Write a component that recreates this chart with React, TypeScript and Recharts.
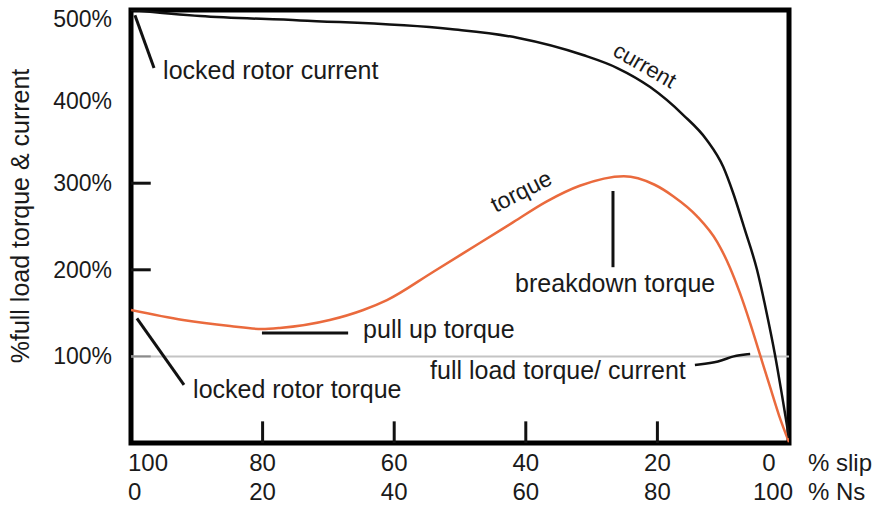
import React from 'react';
import { LineChart, Line, XAxis, YAxis, ReferenceLine, ReferenceArea, ReferenceDot, Label } from 'recharts';

// ---- data (x = % slip, y = % of full load) ----
const currentSlip = [100, 89.5, 74.3, 51.5, 41.3, 31.3, 26.1, 21.1, 16.1, 12.5, 10.0, 8.5, 6.7, 4.86, 3.5, 2.13, 1.06, 0];
const currentPct = [500, 493, 488, 478, 468, 448, 433, 411, 379, 350, 319, 289, 246, 200, 154, 102, 55, 6];

const torqueSlip = [100, 92.1, 84.95, 80.1, 77.4, 69.8, 64.7, 61.1, 54.1, 47.0, 41.9, 36.8, 31.8, 25.1, 20.5, 17.6, 14.0, 10.9, 9.0, 7.45, 5.93, 4.41, 2.89, 1.52, 0];
const torquePct = [153.6, 142, 135, 131.6, 132.8, 142, 153.6, 165, 197.5, 231, 255, 279, 297, 308, 298.5, 285, 262, 232, 203, 173, 139, 102, 65, 32, 1];

const xTicks = [100, 80, 60, 40, 20, 0];
const slipLabels = ['100', '80', '60', '40', '20', '0'];
const nsLabels = ['0', '20', '40', '60', '80', '100'];
const yTicks = [100, 200, 300, 400, 500];
const innerXTicks = [80, 60, 40, 20];
const innerYTicks = [200, 300];

const fullLoadSlip = [14.3, 10.5, 8.5, 5.9];
const fullLoadPct = [90, 93.5, 101, 102.8];

const currentData = currentSlip.map((s, i) => ({ slip: s, pct: currentPct[i] }));
const torqueData = torqueSlip.map((s, i) => ({ slip: s, pct: torquePct[i] }));
const fullLoadData = fullLoadSlip.map((s, i) => ({ slip: s, pct: fullLoadPct[i] }));

// leader lines in data units
const leaders = [
  [{ x: 99.4, y: 494 }, { x: 96.5, y: 433 }],
  [{ x: 99.1, y: 144 }, { x: 91.95, y: 67 }],
  [{ x: 80.1, y: 127 }, { x: 67.0, y: 127 }],
  [{ x: 26.75, y: 291 }, { x: 26.75, y: 203 }],
];

const TEXT = '#1a1a1a';
const FONT = '"Liberation Sans", Arial, Helvetica, sans-serif';

const XTick = (props: any) => {
  const { x, y, payload } = props;
  const i = xTicks.indexOf(payload.value);
  let a1 = 'middle', a2 = 'middle', x1 = x, x2 = x;
  if (i === 0) { a1 = 'start'; a2 = 'start'; x1 = x - 3; x2 = x - 3; }
  if (i === xTicks.length - 1) { a1 = 'middle'; a2 = 'end'; x1 = x - 20; x2 = x + 4; }
  return (
    <g fontSize={24} fill={TEXT}>
      <text x={x1} y={y + 28} textAnchor={a1} fill={TEXT}>{slipLabels[i]}</text>
      <text x={x2} y={y + 57} textAnchor={a2} fill={TEXT}>{nsLabels[i]}</text>
      {i === xTicks.length - 1 && (
        <>
          <text x={x + 19} y={y + 28} textAnchor="start" fill={TEXT}>% slip</text>
          <text x={x + 19} y={y + 57} textAnchor="start" fill={TEXT}>% Ns</text>
        </>
      )}
    </g>
  );
};

const YTick = (props: any) => {
  const { x, y, payload } = props;
  const v = payload.value;
  const dy = v === 500 ? 17 : v === 400 ? 12 : 8;
  return (
    <text x={x - 19} y={y + dy} textAnchor="end" fontSize={23} fill={TEXT}>{`${v}%`}</text>
  );
};

const dotLabel = (text: string, position: any = 'right', angle = 0, fontSize = 25) => (
  <Label value={text} position={position} offset={0} angle={angle} fontSize={fontSize} fill={TEXT} />
);

export default function App() {
  return (
    <div style={{ position: 'absolute', left: 0, top: 0, width: 877, height: 505, background: '#fff', fontFamily: FONT }}>
      <LineChart width={877} height={505} margin={{ top: 10, right: 88, bottom: 0, left: 0 }}>
        <XAxis
          type="number"
          dataKey="slip"
          domain={[0, 100]}
          reversed
          ticks={xTicks}
          tick={<XTick />}
          tickLine={false}
          axisLine={false}
          tickSize={0}
          tickMargin={0}
          height={62}
          allowDataOverflow
          interval={0}
        />
        <YAxis
          type="number"
          dataKey="pct"
          domain={[0, 500]}
          ticks={yTicks}
          tick={<YTick />}
          tickLine={false}
          axisLine={false}
          tickSize={0}
          tickMargin={0}
          width={131}
          allowDataOverflow
          interval={0}
          label={{
            content: () => (
              <text transform="translate(29,216) rotate(-90)" textAnchor="middle" fontSize={25} fill={TEXT}>
                %full load torque &amp; current
              </text>
            ),
          }}
        />
        <ReferenceLine y={100} stroke="#c4c4c4" strokeWidth={2} />
        <ReferenceLine segment={[{ x: 100, y: 100 }, { x: 97, y: 100 }]} stroke="#8a8a8a" strokeWidth={2} />
        {innerYTicks.map((v) => (
          <ReferenceLine key={`yt${v}`} segment={[{ x: 100, y: v }, { x: 97, y: v }]} stroke="#111" strokeWidth={3} />
        ))}
        {innerXTicks.map((s) => (
          <ReferenceLine key={`xt${s}`} segment={[{ x: s, y: 0 }, { x: s, y: 25 }]} stroke="#111" strokeWidth={3} />
        ))}
        {leaders.map((seg, i) => (
          <ReferenceLine key={`ld${i}`} segment={seg} stroke="#111" strokeWidth={3} ifOverflow="visible" />
        ))}
        <ReferenceArea x1={100} x2={0} y1={0} y2={500} fill="none" stroke="#000" strokeWidth={5} ifOverflow="visible" />

        <Line data={fullLoadData} dataKey="pct" type="basis" stroke="#111" strokeWidth={2.5} dot={false} isAnimationActive={false} />
        <Line data={torqueData} dataKey="pct" type="monotone" stroke="#ea6a3d" strokeWidth={2.5} dot={false} isAnimationActive={false} />
        <Line data={currentData} dataKey="pct" type="monotone" stroke="#111" strokeWidth={2.5} dot={false} isAnimationActive={false} />

        <ReferenceDot x={95.14} y={430.7} r={0.1} fill="none" stroke="none" ifOverflow="visible" label={dotLabel('locked rotor current')} />
        <ReferenceDot x={90.58} y={62.4} r={0.1} fill="none" stroke="none" ifOverflow="visible" label={dotLabel('locked rotor torque')} />
        <ReferenceDot x={64.74} y={131.6} r={0.1} fill="none" stroke="none" ifOverflow="visible" label={dotLabel('pull up torque')} />
        <ReferenceDot x={41.64} y={184.8} r={0.1} fill="none" stroke="none" ifOverflow="visible" label={dotLabel('breakdown torque')} />
        <ReferenceDot x={54.56} y={84.3} r={0.1} fill="none" stroke="none" ifOverflow="visible" label={dotLabel('full load torque/ current')} />
        <ReferenceDot x={21.88} y={436.5} r={0.1} fill="none" stroke="none" ifOverflow="visible" label={dotLabel('current', 'center', 30, 22)} />
        <ReferenceDot x={40.73} y={291} r={0.1} fill="none" stroke="none" ifOverflow="visible" label={dotLabel('torque', 'center', -27, 23)} />
      </LineChart>
    </div>
  );
}
